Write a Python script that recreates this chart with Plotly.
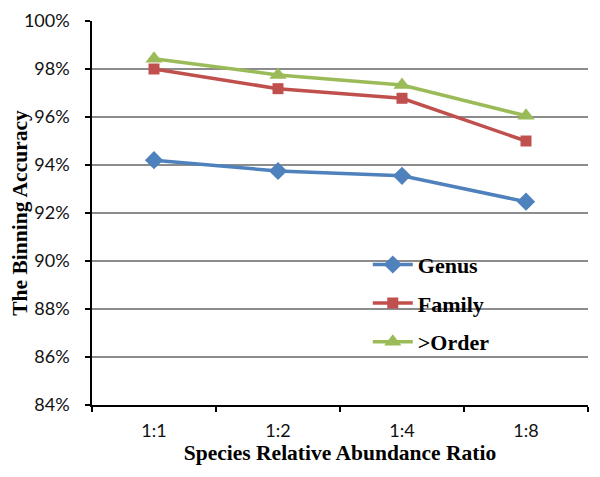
import plotly.graph_objects as go

categories = ["1:1", "1:2", "1:4", "1:8"]
genus = [94.2, 93.75, 93.55, 92.47]
family = [98.0, 97.18, 96.78, 95.0]
order = [98.43, 97.75, 97.33, 96.05]
y_ticks = [84, 86, 88, 90, 92, 94, 96, 98, 100]
y_tick_labels = [f"{v}%" for v in y_ticks]

series = [
    ("Genus", genus, "#4F81BD", "diamond", 14),
    ("Family", family, "#C0504D", "square", 11),
    (">Order", order, "#9BBB59", "triangle-up", 15),
]

fig = go.Figure()
for name, vals, color, sym, size in series:
    fig.add_trace(go.Scatter(
        x=categories, y=vals, name=name, mode="lines+markers",
        line=dict(color=color, width=3.5),
        marker=dict(symbol=sym, size=size, color=color),
        legendgroup=name,
    ))

fig.update_layout(
    width=600, height=477,
    margin=dict(l=84, r=20, t=13, b=80),
    paper_bgcolor="white", plot_bgcolor="white",
    showlegend=True,
    legend=dict(
        x=0.556, y=0.42, xanchor="left", yanchor="top",
        font=dict(family="Liberation Serif", size=22, color="black", weight="bold"),
        tracegroupgap=7, traceorder="grouped",
        bgcolor="rgba(0,0,0,0)", itemwidth=40,
    ),
    xaxis=dict(
        type="category", range=[-0.5, 3.5], automargin=False,
        tickson="boundaries", ticks="outside", ticklen=5, tickcolor="black", tickwidth=1.5,
        showline=True, linecolor="black", linewidth=1.5,
        showgrid=False, ticklabelstandoff=9,
        tickfont=dict(family="Lato, Open Sans, sans-serif", size=18, color="#111"),
        title=dict(text="Species Relative Abundance Ratio", standoff=2,
                   font=dict(family="Liberation Serif", size=21.5, color="black", weight="bold")),
    ),
    yaxis=dict(
        range=[84, 100], tickvals=y_ticks, ticktext=y_tick_labels, automargin=False,
        ticks="outside", ticklen=5, tickcolor="black", tickwidth=1.5,
        showline=True, linecolor="black", linewidth=1.5,
        showgrid=True, gridcolor="#8c8c8c", gridwidth=1.5,
        zeroline=False, ticklabelstandoff=12,
        tickfont=dict(family="Lato, Open Sans, sans-serif", size=18, color="#111"),
        title=dict(text="The Binning Accuracy", standoff=2,
                   font=dict(family="Liberation Serif", size=21.5, color="black", weight="bold")),
    ),
)

fig.write_html("out.html")
